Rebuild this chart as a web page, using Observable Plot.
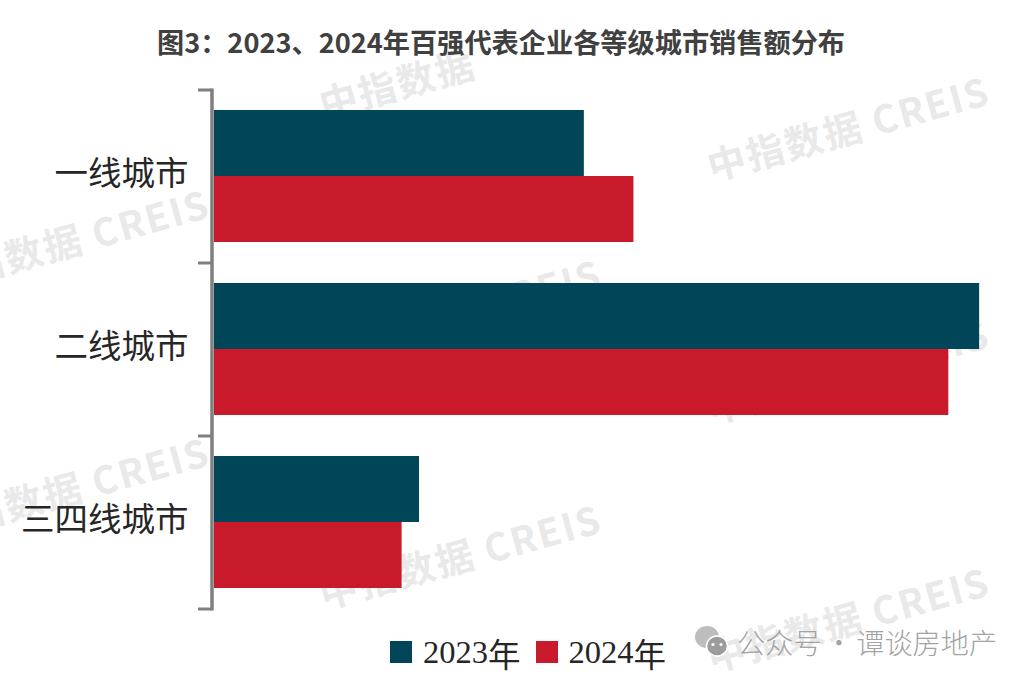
<!DOCTYPE html>
<html lang="zh">
<head>
<meta charset="utf-8">
<script src="https://cdn.jsdelivr.net/npm/d3@7"></script>
<script src="https://cdn.jsdelivr.net/npm/@observablehq/plot@0.6"></script>
<style>
html,body{margin:0;padding:0;background:#fff;}
#page{position:relative;width:1030px;height:682px;overflow:hidden;font-family:"Noto Sans CJK SC","Noto Sans",sans-serif;}
#title{position:absolute;left:0;width:1002px;top:22px;text-align:center;font-size:27.2px;line-height:38px;font-weight:700;color:#404040;white-space:nowrap;z-index:3;}
#chart{position:absolute;left:0;top:0;z-index:2;}
#chart svg{background:transparent;}
#wmLayer{position:absolute;left:0;top:54px;width:1030px;height:628px;overflow:hidden;z-index:1;}
.wm{position:absolute;font-size:38px;font-weight:700;color:#e9e9e9;white-space:nowrap;transform:rotate(-15.5deg);transform-origin:center;letter-spacing:2px;width:340px;height:56px;line-height:56px;text-align:center;}
.wm .off{visibility:hidden;}
#legend{position:absolute;left:390px;top:628px;height:48px;display:flex;align-items:center;z-index:3;font-family:"Liberation Serif","Noto Sans CJK SC",serif;font-size:32.5px;color:#262626;}
#legend .sw{width:22px;height:22px;margin-right:11px;display:inline-block;}
#legend .it{display:flex;align-items:center;margin-right:15px;}
#legend .cjk{font-family:"Noto Sans CJK SC",sans-serif;}
#wechat{position:absolute;left:695px;top:621px;display:flex;align-items:center;z-index:3;color:#a3a3a3;font-size:28.2px;font-weight:300;word-spacing:-3px;white-space:nowrap;}
#wechat svg{margin-right:9px;}
</style>
</head>
<body>
<div id="page">
  <div id="title"></div>
  <div id="chart"></div>
  <div id="legend"></div>
  <div id="wechat"></div>
  <div id="wmLayer"></div>
</div>
<script>
const titleText = "图3：2023、2024年百强代表企业各等级城市销售额分布";
const categories = ["一线城市", "二线城市", "三四线城市"];
const seriesNames = ["2023年", "2024年"];
const values2023 = [27.6, 57.1, 15.3];
const values2024 = [31.3, 54.8, 14.0];
const seriesColors = ["#004558", "#c91a2b"];
const wechatText = "公众号 · 谭谈房地产";
const watermarkBrand = "中指数据";
const watermarkLatin = "CREIS";

const rows = categories.flatMap((c, i) => [
  {category: c, series: seriesNames[0], value: values2023[i]},
  {category: c, series: seriesNames[1], value: values2024[i]}
]);

// Axis bracket: spine plus a tick on every band boundary of the fy scale.
// Plot calls this once per facet, so draw it only on the first call.
let bracketDrawn = false;
const bracket = (index, scales, values, dims) => {
  if (bracketDrawn) return null;
  bracketDrawn = true;
  const g = d3.create("svg:g").attr("stroke", "#7f7f7f").attr("fill", "none");
  const x0 = dims.marginLeft - 2;
  const starts = categories.map(c => scales.fy(c));
  const step = starts[1] - starts[0];
  const edges = starts.concat(starts[starts.length - 1] + step);
  g.append("line").attr("x1", x0).attr("x2", x0).attr("y1", edges[0] - 1.5).attr("y2", edges[edges.length - 1] + 1.5).attr("stroke-width", 3.5);
  edges.forEach(y => g.append("line").attr("x1", x0 - 14).attr("x2", x0).attr("y1", y).attr("y2", y).attr("stroke-width", 3));
  return g.node();
};

const plot = Plot.plot({
  width: 1030,
  height: 682,
  marginTop: 88,
  marginBottom: 73,
  marginLeft: 214,
  marginRight: 12,
  style: {background: "transparent"},
  x: {domain: [0, 60], axis: null},
  y: {domain: seriesNames, axis: null, paddingInner: 0, paddingOuter: 0.31, align: 0.5},
  fy: {domain: categories, padding: 0, axis: null},
  color: {domain: seriesNames, range: seriesColors},
  marks: [
    Plot.barX(rows, {x: "value", y: "series", fy: "category", fill: "series"}),
    Plot.axisFy({
      anchor: "left", tickSize: 0, tickPadding: 26, fontSize: 33.5, dy: -2,
      fontFamily: '"Noto Sans CJK SC",sans-serif', fontWeight: 400, color: "#262626", label: null
    }),
    bracket
  ]
});
document.getElementById("chart").append(plot);

document.getElementById("title").textContent = titleText;

const legend = document.getElementById("legend");
seriesNames.forEach((s, i) => {
  const it = document.createElement("span");
  it.className = "it";
  const m = s.match(/^(\d+)(.*)$/);
  it.innerHTML = `<span class="sw" style="background:${seriesColors[i]}"></span><span>${m[1]}</span><span class="cjk">${m[2]}</span>`;
  legend.append(it);
});

document.getElementById("wechat").innerHTML =
  `<svg width="33" height="34" viewBox="0 0 33 34"><ellipse cx="12" cy="12" rx="12" ry="11" fill="#bdbdbd"/><ellipse cx="22" cy="21" rx="10.5" ry="10" fill="#9c9c9c" stroke="#fff" stroke-width="1.5"/><circle cx="18" cy="19.5" r="1.6" fill="#fff"/><circle cx="26" cy="19.5" r="1.6" fill="#fff"/></svg><span>${wechatText}</span>`;

// Background watermark, centre points in page pixels
const watermarkCentres = [[460,65],[848,127],[68,240],[460,310],[848,370],[68,488],[460,555],[848,618]];
const layer = document.getElementById("wmLayer");
watermarkCentres.forEach(([cx, cy], i) => {
  const d = document.createElement("div");
  d.className = "wm";
  // The top watermark shows only its Chinese half in the reference
  d.innerHTML = i === 0
    ? `${watermarkBrand} <span class="off">${watermarkLatin}</span>`
    : `${watermarkBrand} ${watermarkLatin}`;
  d.style.left = (cx - 170) + "px";
  d.style.top = (cy - 28 - 54) + "px";
  layer.append(d);
});
</script>
</body>
</html>
